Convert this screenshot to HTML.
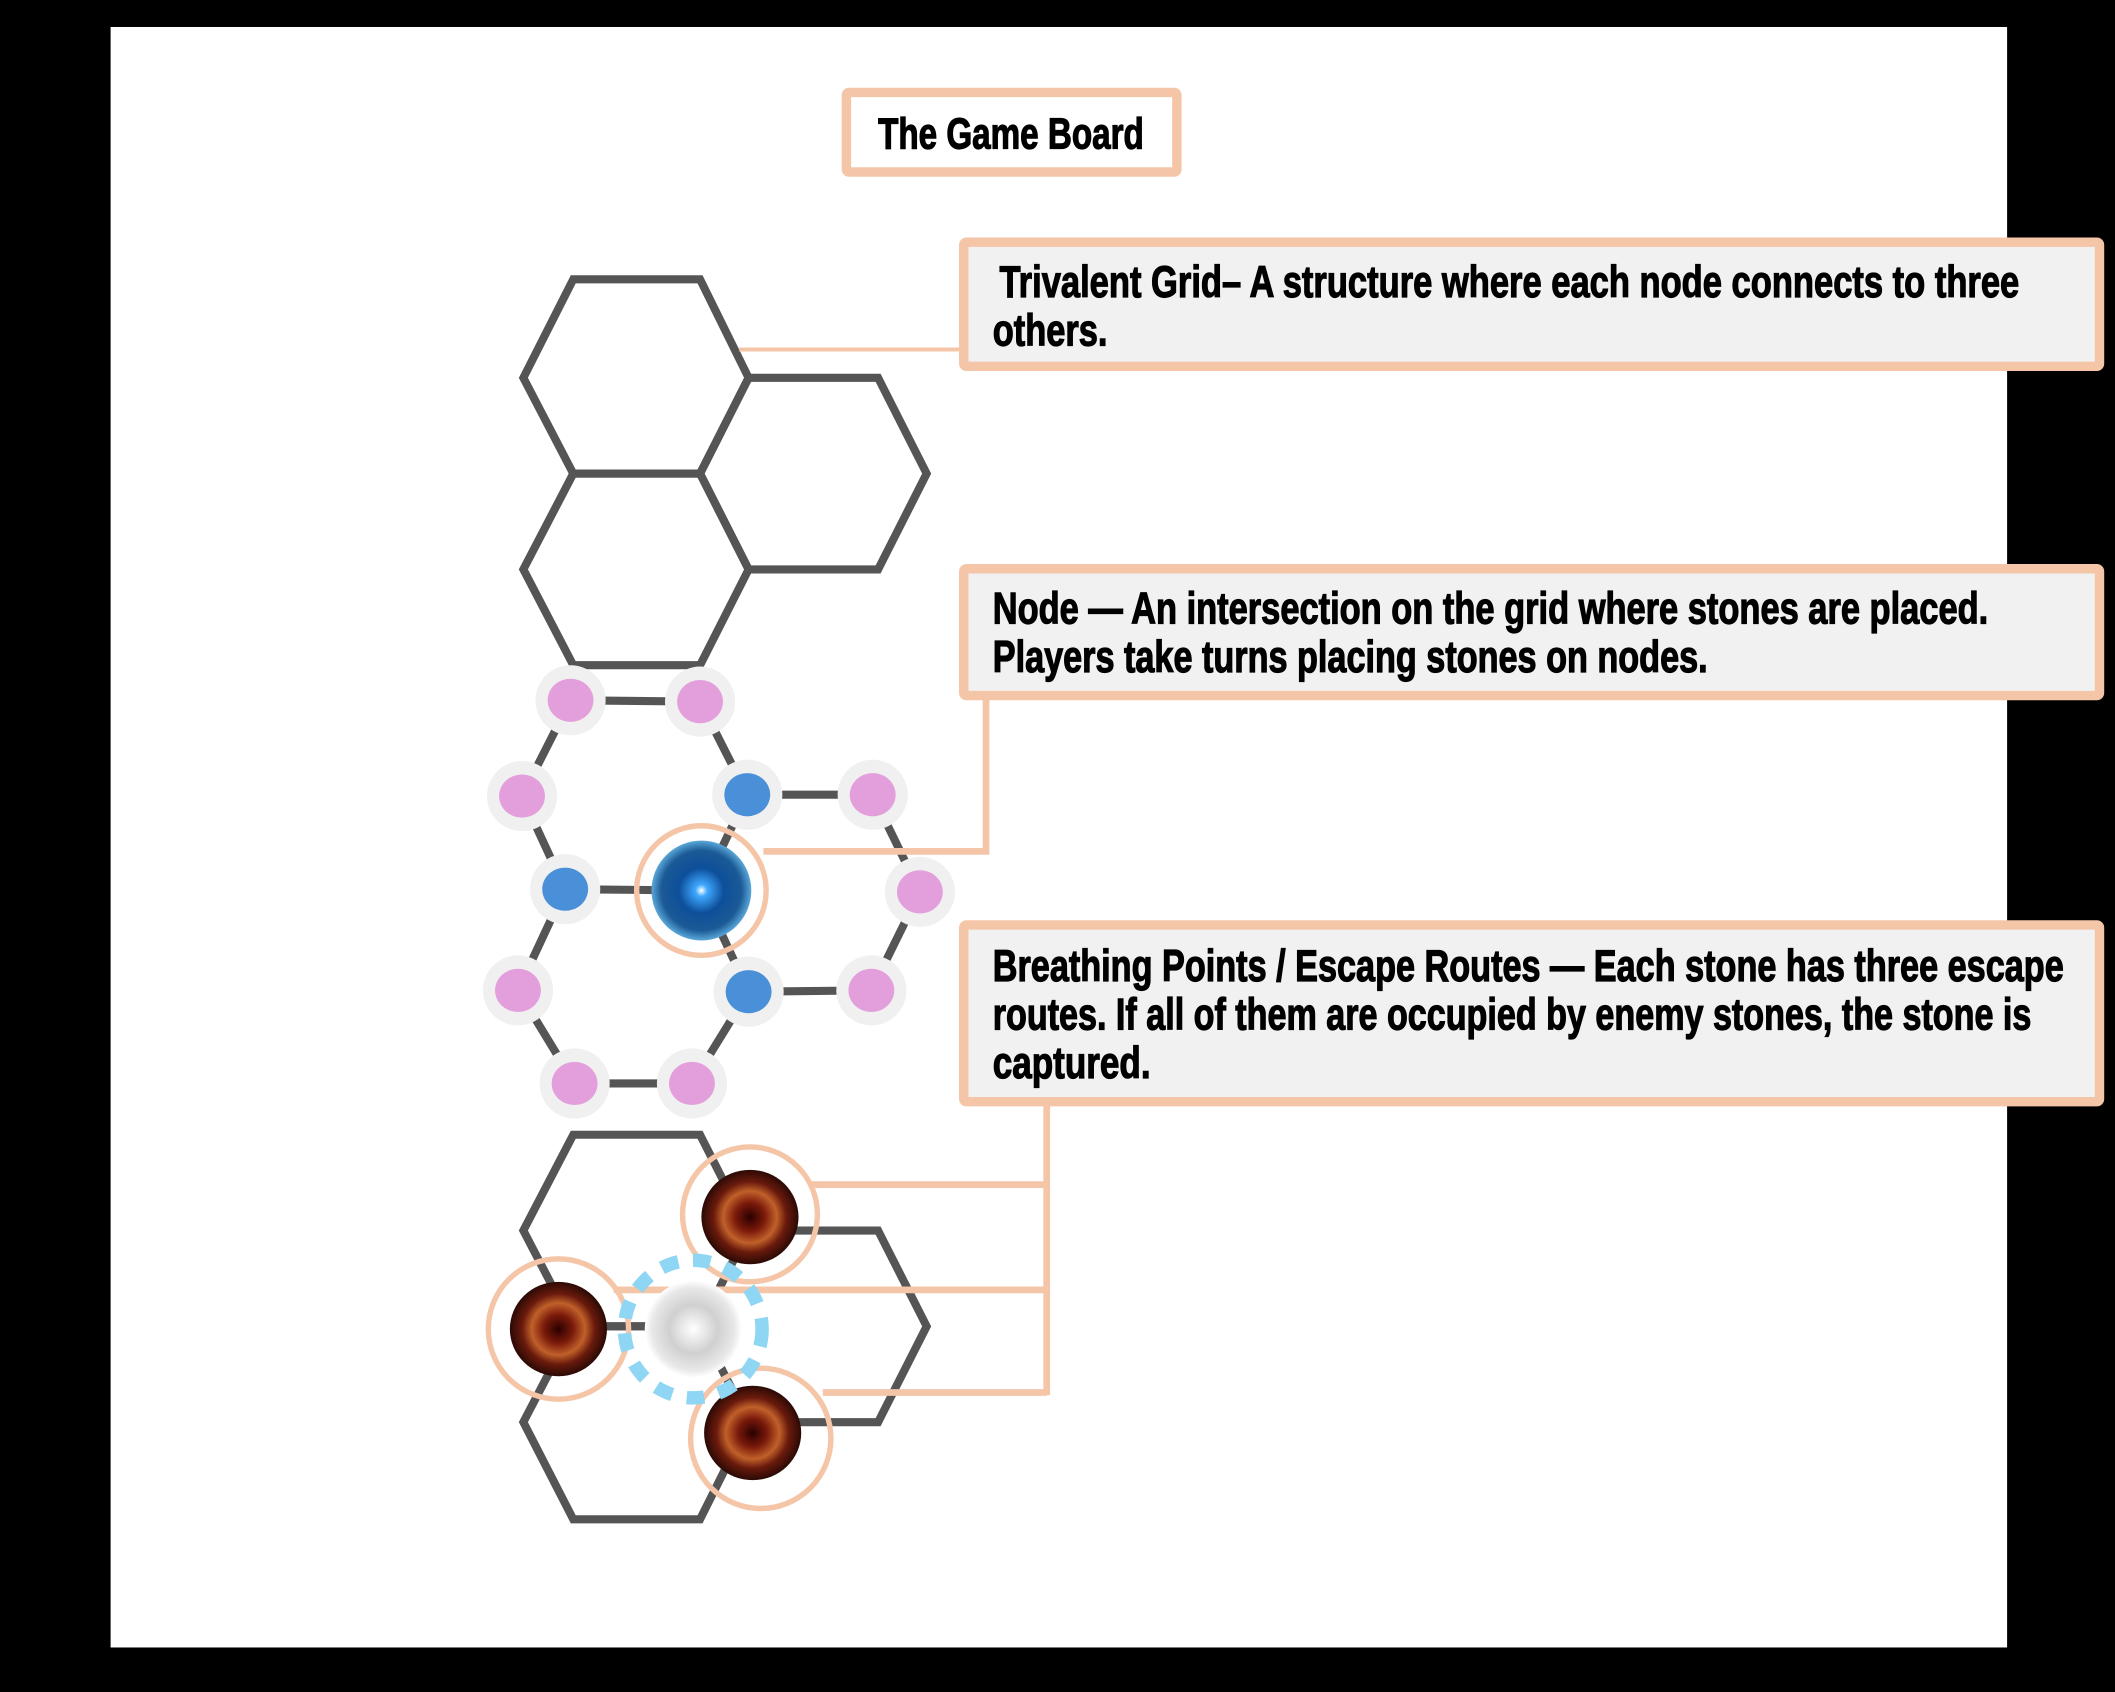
<!DOCTYPE html>
<html><head><meta charset="utf-8"><style>
html,body{margin:0;padding:0;background:#000;width:2115px;height:1692px;overflow:hidden}
svg{display:block}
text{font-family:"Liberation Sans Narrow","Liberation Sans",sans-serif;font-weight:bold;fill:#000;stroke:#000;stroke-width:0.9}
</style></head><body>
<svg width="2115" height="1692" viewBox="0 0 1568 1254" preserveAspectRatio="none" xmlns="http://www.w3.org/2000/svg">
<defs>
<radialGradient id="blue" cx="50%" cy="50%" r="50%">
<stop offset="0" stop-color="#ffffff"/><stop offset="0.12" stop-color="#3fa8ff"/><stop offset="0.45" stop-color="#0d4f9a"/><stop offset="0.8" stop-color="#1b5a96"/><stop offset="1" stop-color="#5aa7d8"/>
</radialGradient>
<radialGradient id="red" cx="50%" cy="50%" r="50%">
<stop offset="0" stop-color="#2a0000"/><stop offset="0.3" stop-color="#7a1a0a"/><stop offset="0.55" stop-color="#c0602a"/><stop offset="0.75" stop-color="#6a1a0c"/><stop offset="1" stop-color="#2a0a05"/>
</radialGradient>
<radialGradient id="white" cx="50%" cy="50%" r="50%">
<stop offset="0" stop-color="#ffffff"/><stop offset="0.5" stop-color="#d0d0d0"/><stop offset="0.85" stop-color="#e8e8e8"/><stop offset="1" stop-color="#ffffff"/>
</radialGradient>
</defs>
<rect x="0" y="0" width="1568" height="1254" fill="#000"/>
<rect x="82" y="20" width="1406" height="1201" fill="#fff"/>

<rect x="627.5" y="68.5" width="245" height="59" fill="#fff" stroke="#f5c5a8" stroke-width="7" rx="2"/>
<text x="651" y="110" font-size="32" textLength="197" lengthAdjust="spacingAndGlyphs">The Game Board</text>

<g fill="none" stroke="#555" stroke-width="6" stroke-linejoin="miter">
<polygon points="425,207 519,207 555,280 519,351 425,351 388,280"/>
<polygon points="555,280 651,280 687,351 651,422 555,422 519,351"/>
<polygon points="425,351 519,351 555,422 519,493 425,493 388,422"/>
</g>
<line x1="548" y1="259" x2="712" y2="259" stroke="#f5c5a8" stroke-width="3"/>
<rect x="714.5" y="179.5" width="842" height="92" fill="#f1f1f1" stroke="#f5c5a8" stroke-width="7" rx="2"/>
<text x="741" y="220" font-size="33" textLength="756" lengthAdjust="spacingAndGlyphs">Trivalent Grid– A structure where each node connects to three</text>
<text x="736" y="256" font-size="33" textLength="85" lengthAdjust="spacingAndGlyphs">others.</text>

<g stroke="#555" stroke-width="6">
<line x1="423" y1="519" x2="519" y2="520"/>
<line x1="423" y1="519" x2="387" y2="590"/>
<line x1="519" y1="520" x2="554" y2="589"/>
<line x1="554" y1="589" x2="647" y2="589"/>
<line x1="387" y1="590" x2="419" y2="659"/>
<line x1="419" y1="659" x2="520" y2="660"/>
<line x1="520" y1="660" x2="554" y2="589"/>
<line x1="647" y1="589" x2="682" y2="661"/>
<line x1="682" y1="661" x2="646" y2="734"/>
<line x1="419" y1="659" x2="384" y2="734"/>
<line x1="520" y1="660" x2="555" y2="735"/>
<line x1="555" y1="735" x2="646" y2="734"/>
<line x1="384" y1="734" x2="426" y2="803"/>
<line x1="555" y1="735" x2="513" y2="803"/>
<line x1="426" y1="803" x2="513" y2="803"/>
</g>
<g fill="#f0f0f0">
<circle cx="423" cy="519" r="26"/><circle cx="519" cy="520" r="26"/><circle cx="387" cy="590" r="26"/>
<circle cx="647" cy="589" r="26"/><circle cx="682" cy="661" r="26"/><circle cx="384" cy="734" r="26"/>
<circle cx="646" cy="734" r="26"/><circle cx="426" cy="803" r="26"/><circle cx="513" cy="803" r="26"/>
<circle cx="554" cy="589" r="26"/><circle cx="419" cy="659" r="26"/><circle cx="555" cy="735" r="26"/>
</g>
<g fill="#e39fdb">
<ellipse cx="423" cy="519" rx="17" ry="16"/><ellipse cx="519" cy="520" rx="17" ry="16"/><ellipse cx="387" cy="590" rx="17" ry="16"/>
<ellipse cx="647" cy="589" rx="17" ry="16"/><ellipse cx="682" cy="661" rx="17" ry="16"/><ellipse cx="384" cy="734" rx="17" ry="16"/>
<ellipse cx="646" cy="734" rx="17" ry="16"/><ellipse cx="426" cy="803" rx="17" ry="16"/><ellipse cx="513" cy="803" rx="17" ry="16"/>
</g>
<g fill="#4a90d9">
<ellipse cx="554" cy="589" rx="17" ry="16"/><ellipse cx="419" cy="659" rx="17" ry="16"/><ellipse cx="555" cy="735" rx="17" ry="16"/>
</g>
<polyline points="566,631 731,631 731,517" fill="none" stroke="#f5c5a8" stroke-width="5"/>
<circle cx="520" cy="660" r="48" fill="none" stroke="#f5c5a8" stroke-width="4"/>
<circle cx="520" cy="660" r="37" fill="url(#blue)"/>
<rect x="714.5" y="421.5" width="842" height="94" fill="#f1f1f1" stroke="#f5c5a8" stroke-width="7" rx="2"/>
<text x="736" y="462" font-size="33" textLength="738" lengthAdjust="spacingAndGlyphs">Node — An intersection on the grid where stones are placed.</text>
<text x="736" y="498" font-size="33" textLength="530" lengthAdjust="spacingAndGlyphs">Players take turns placing stones on nodes.</text>

<g fill="none" stroke="#555" stroke-width="6">
<polygon points="425,841 519,841 555,912 519,983 425,983 388,912"/>
<polygon points="555,912 651,912 687,983 651,1054 555,1054 519,983"/>
<polygon points="425,983 519,983 555,1054 519,1126 425,1126 388,1054"/>
</g>
<g fill="none" stroke="#f5c5a8" stroke-width="5">
<polyline points="600,878 776,878"/>
<polyline points="455,956 776,956"/>
<polyline points="610,1032 776,1032"/>
<line x1="776" y1="818" x2="776" y2="1034"/>
</g>
<circle cx="556" cy="900" r="50" fill="none" stroke="#f5c5a8" stroke-width="4"/>
<circle cx="414" cy="985" r="52" fill="none" stroke="#f5c5a8" stroke-width="4"/>
<circle cx="564" cy="1066" r="52" fill="none" stroke="#f5c5a8" stroke-width="4"/>
<ellipse cx="556" cy="902" rx="36" ry="35" fill="url(#red)"/>
<ellipse cx="414" cy="985" rx="36" ry="35" fill="url(#red)"/>
<ellipse cx="558" cy="1062" rx="36" ry="35" fill="url(#red)"/>
<circle cx="514" cy="985" r="36" fill="url(#white)"/>
<circle cx="514" cy="985" r="51" fill="none" stroke="#8fd6f5" stroke-width="10" stroke-dasharray="13 11"/>

<rect x="714.5" y="685.5" width="842" height="131" fill="#f1f1f1" stroke="#f5c5a8" stroke-width="7" rx="2"/>
<text x="736" y="727" font-size="33" textLength="794" lengthAdjust="spacingAndGlyphs">Breathing Points / Escape Routes — Each stone has three escape</text>
<text x="736" y="763" font-size="33" textLength="770" lengthAdjust="spacingAndGlyphs">routes. If all of them are occupied by enemy stones, the stone is</text>
<text x="736" y="799" font-size="33" textLength="117" lengthAdjust="spacingAndGlyphs">captured.</text>
</svg>
</body></html>
